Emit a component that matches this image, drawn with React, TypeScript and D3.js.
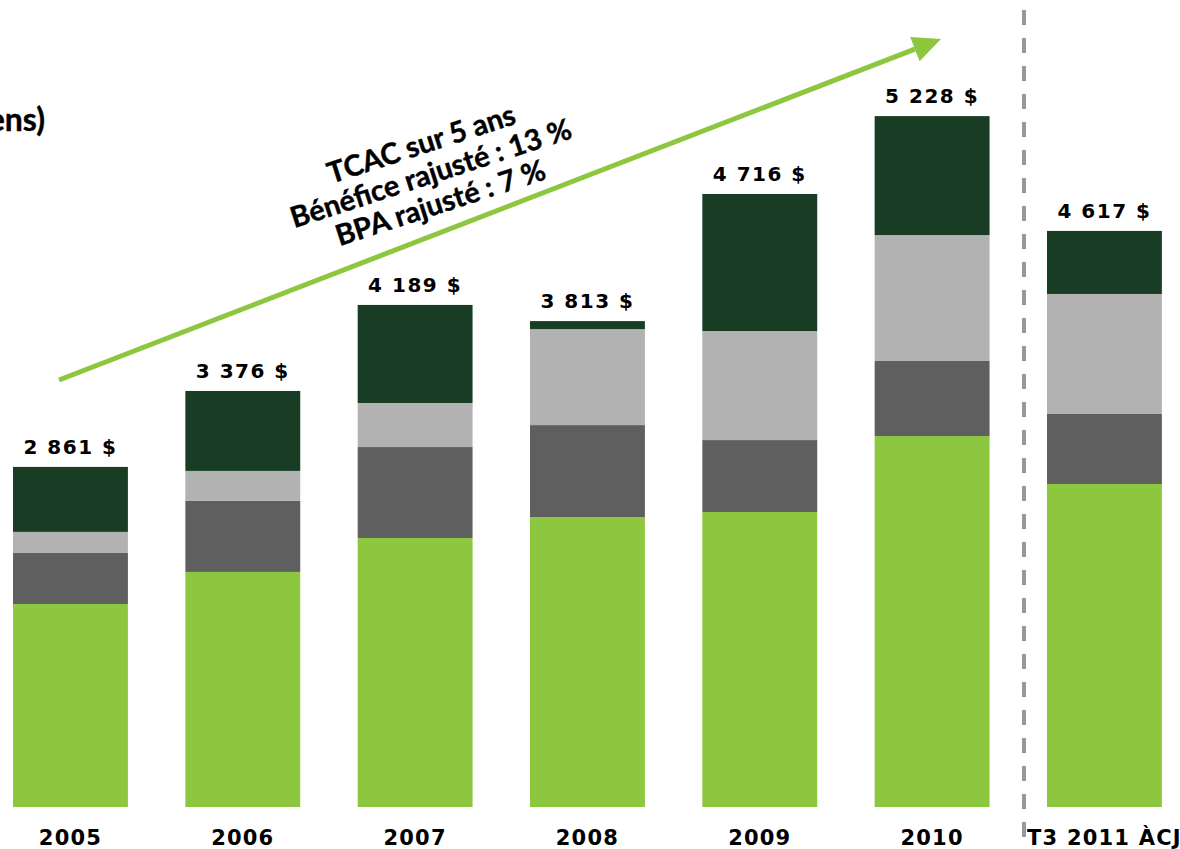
import * as d3 from 'd3';
import React, { FC, useEffect } from 'react';

// adjusted earnings by segment, millions of CAD
const periods = ['2005', '2006', '2007', '2008', '2009', '2010', 'T3 2011 ÀCJ'];
const totals = [2861, 3376, 4189, 3813, 4716, 5228, 4617];
const canada = [1935, 2151, 2380, 2521, 2555, 3067, 2744];
const wealth = [344, 479, 613, 620, 485, 506, 472];
const usRetail = [142, 202, 297, 647, 735, 849, 809];
const wholesale = [438, 539, 661, 54, 924, 802, 425];

const keys = ['canada', 'wealth', 'usRetail', 'wholesale'];
const colors: any = {
	canada: '#8dc63f',
	wealth: '#5f5f5f',
	usRetail: '#b2b2b2',
	wholesale: '#183d24',
};

const App: FC = () => {
	const ref = React.useRef<SVGSVGElement>(null);
	const width = 1180;
	const height = 849;
	const plotBottom = 807;

	useEffect(() => {
		const svg = d3.select(ref.current);
		svg.selectAll('*').remove();

		const rows = periods.map((p, i) => ({
			period: p,
			total: totals[i],
			canada: canada[i],
			wealth: wealth[i],
			usRetail: usRetail[i],
			wholesale: wholesale[i],
		}));

		const x: any = d3
			.scaleBand()
			.domain(periods)
			.range([-15.7, 1190.6])
			.paddingInner(1 / 3)
			.paddingOuter(1 / 6);

		// value axis is cut off well above zero, like the original slide
		const y = d3.scaleLinear().domain([0, 6000]).range([891, 1]);

		const stacked = d3.stack().keys(keys)(rows as any);

		svg.append('defs')
			.append('clipPath')
			.attr('id', 'plot')
			.append('rect')
			.attr('x', 0)
			.attr('y', 0)
			.attr('width', width)
			.attr('height', plotBottom);

		svg.append('g')
			.attr('clip-path', 'url(#plot)')
			.selectAll('g')
			.data(stacked)
			.join('g')
			.attr('fill', (d: any) => colors[d.key])
			.selectAll('rect')
			.data((d: any) => d)
			.join('rect')
			.attr('x', (d: any) => x(d.data.period))
			.attr('y', (d: any) => y(d[1]))
			.attr('width', x.bandwidth())
			.attr('height', (d: any) => y(d[0]) - y(d[1]));

		const fmt = d3.formatLocale({ decimal: ',', thousands: ' ', grouping: [3], currency: ['', ' $'] }).format(',');

		const top = stacked[stacked.length - 1];
		svg.append('g')
			.attr('font-family', 'DejaVu Sans, sans-serif')
			.attr('font-weight', 'bold')
			.attr('font-size', 20)
			.attr('letter-spacing', 1.5)
			.attr('text-anchor', 'middle')
			.selectAll('text')
			.data(rows)
			.join('text')
			.attr('x', (d: any) => x(d.period) + x.bandwidth() / 2)
			.attr('y', (d: any, i: number) => y(top[i][1]) - 13)
			.text((d: any) => `${fmt(d.total)} $`);

		svg.append('g')
			.attr('font-family', 'DejaVu Sans, sans-serif')
			.attr('font-weight', 'bold')
			.attr('font-size', 21)
			.attr('letter-spacing', 1.2)
			.attr('text-anchor', 'middle')
			.selectAll('text')
			.data(periods)
			.join('text')
			.attr('x', (d: any) => x(d) + x.bandwidth() / 2)
			.attr('y', 845)
			.text((d: any) => d);

		// separator between full years and year to date
		const sepX = x(periods[6]) - 23;
		svg.append('line')
			.attr('x1', sepX)
			.attr('x2', sepX)
			.attr('y1', 10)
			.attr('y2', 849)
			.attr('stroke', '#999999')
			.attr('stroke-width', 4)
			.attr('stroke-dasharray', '15 13');

		// growth arrow
		const x0 = 59, y0 = 380, x1 = 941, y1 = 39;
		const ang = Math.atan2(y1 - y0, x1 - x0);
		const headLen = 28, headHalf = 13;
		const bx = x1 - headLen * Math.cos(ang);
		const by = y1 - headLen * Math.sin(ang);
		svg.append('line')
			.attr('x1', x0)
			.attr('y1', y0)
			.attr('x2', bx)
			.attr('y2', by)
			.attr('stroke', '#8dc63f')
			.attr('stroke-width', 5);
		svg.append('polygon')
			.attr('fill', '#8dc63f')
			.attr(
				'points',
				[
					[x1, y1],
					[bx + headHalf * Math.sin(ang), by - headHalf * Math.cos(ang)],
					[bx - headHalf * Math.sin(ang), by + headHalf * Math.cos(ang)],
				]
					.map(p => p.join(','))
					.join(' ')
			);

		const note = svg
			.append('text')
			.attr('font-family', 'Lato, sans-serif')
			.attr('font-weight', 'bold')
			.attr('font-size', 29)
			.attr('stroke', '#000')
			.attr('stroke-width', 0.4)
			.attr('text-anchor', 'middle')
			.attr('transform', 'translate(434,183) rotate(-18)');
		['TCAC sur 5 ans', 'Bénéfice rajusté : 13 %', 'BPA rajusté : 7 %'].forEach((t, i) => {
			note.append('tspan')
				.attr('x', 0)
				.attr('y', (i - 1) * 31)
				.text(t);
		});

		svg.append('text')
			.attr('font-family', 'Lato, sans-serif')
			.attr('font-weight', 'bold')
			.attr('font-size', 32)
			.attr('stroke', '#000')
			.attr('stroke-width', 0.4)
			.attr('text-anchor', 'end')
			.attr('x', 45)
			.attr('y', 131)
			.text('Bénéfice rajusté (en millions de dollars canadiens)');
	}, []);

	return (
		<div style={{ position: 'absolute', left: 0, top: 0 }}>
			<svg ref={ref} width={width} height={height} style={{ display: 'block', background: '#fff' }} />
		</div>
	);
};

export default App;
